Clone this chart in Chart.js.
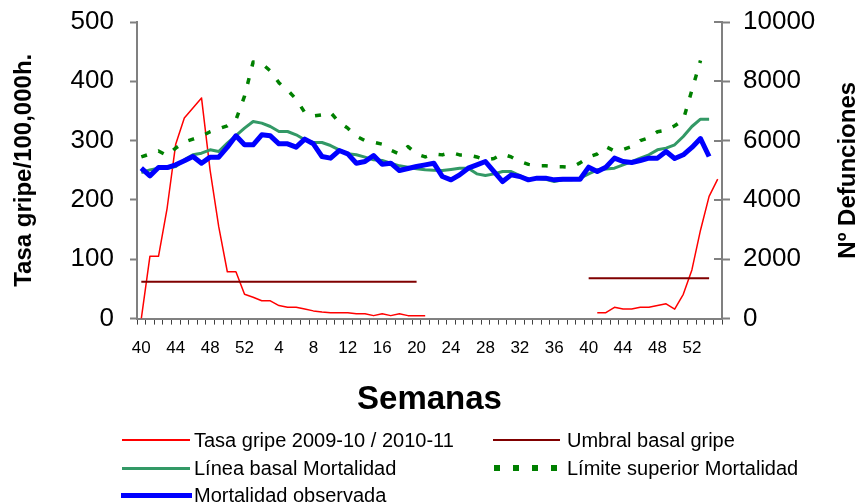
<!DOCTYPE html>
<html><head><meta charset="utf-8">
<script src="https://cdn.jsdelivr.net/npm/chart.js@4/dist/chart.umd.min.js"></script>
<style>
html,body{margin:0;padding:0;background:#fff;}
#wrap{position:relative;width:860px;height:504px;overflow:hidden;}
#c{position:absolute;left:0;top:0;}
.lg{position:absolute;font:20px 'Liberation Sans',Arial,sans-serif;color:#000;line-height:22px;white-space:nowrap;transform:translateY(-50%);}
.sw{position:absolute;}
</style></head><body>
<div id="wrap"><canvas id="c" width="860" height="504"></canvas><div id="legend"></div></div>
<script>
const weeks = [40,41,42,43,44,45,46,47,48,49,50,51,52,
  1,2,3,4,5,6,7,8,9,10,11,12,13,14,15,16,17,18,19,20,21,22,23,24,25,26,27,28,29,30,31,32,33,34,35,36,37,38,39,
  40,41,42,43,44,45,46,47,48,49,50,51,52,1,2,3];

const tasaGripe = [0,105,105,186,294,338,355,372,250,155,79,79,41,36,30,30,22,19,19,16,13,11,10,10,10,8,8,5,8,5,8,5,5,5,
  null,null,null,null,null,null,null,null,null,null,null,null,null,null,null,null,null,null,null,
  10,10,19,16,16,19,19,22,25,16,41,82,149,206,235];

const umbralGripe = [62,62,62,62,62,62,62,62,62,62,62,62,62,62,62,62,62,62,62,62,62,62,62,62,62,62,62,62,62,62,62,62,62,
  null,null,null,null,null,null,null,null,null,null,null,null,null,null,null,null,null,null,null,
  68,68,68,68,68,68,68,68,68,68,68,68,68,68,68,null];

const lineaBasal = [4920,5015,5072,5072,5127,5353,5522,5578,5690,5634,
  5916,6170,6420,6645,6591,6477,6308,6308,6196,6028,
  5937,5937,5835,5690,5555,5522,5443,5353,5330,5240,
  5150,5100,5050,5015,5000,4992,5030,5072,5072,4880,
  4823,4880,4958,4958,4823,4678,4735,4700,4620,4678,
  4678,4735,4880,5015,5040,5072,5180,5296,5410,5522,
  5690,5747,5860,6140,6477,6725,6725];

const limiteSuperior = [5450,5550,5650,5500,5750,5950,6050,6150,6300,6400,
  6500,6700,7500,8650,8600,8350,7950,7700,7400,6950,
  6830,6870,6950,6620,6420,6150,6000,5950,5880,5680,
  5550,5800,5550,5450,5550,5520,5600,5520,5520,5450,
  5350,5400,5550,5450,5300,5200,5150,5150,5120,5120,
  5100,5250,5450,5550,5800,5650,5700,5800,6000,6100,
  6300,6350,6500,6700,7700,8700];

const mortalidadObservada = [5072,4813,5093,5093,5184,5319,5465,5240,5443,5443,
  5780,6163,5859,5859,6196,6163,5893,5893,5780,6050,
  5893,5465,5410,5667,5555,5240,5296,5500,5206,5240,
  4992,5060,5127,5184,5240,4790,4678,4846,5072,5184,
  5296,4958,4620,4846,4790,4678,4735,4735,4678,4700,
  4700,4700,5106,4958,5106,5410,5296,5262,5330,5410,
  5410,5634,5400,5522,5770,6070,5465];

const leftTicks = [0,100,200,300,400,500];
const rightTicks = [0,2000,4000,6000,8000,10000];

const FONT = "'Liberation Sans', Arial, Helvetica, sans-serif";
Chart.defaults.font.family = FONT;
Chart.defaults.color = '#000';

const rightTitle = {
  id: 'rightTitle',
  afterDraw(chart) {
    const ctx = chart.ctx;
    const s = chart.scales.y2;
    ctx.save();
    ctx.strokeStyle = '#808080';
    ctx.lineWidth = 2;
    s.ticks.forEach((t, i) => {
      const y = Math.round(s.getPixelForTick(i));
      ctx.beginPath();
      ctx.moveTo(s.left - 8, y);
      ctx.lineTo(s.left, y);
      ctx.stroke();
    });
    ctx.fillStyle = '#000';
    ctx.font = 'bold 24px ' + FONT;
    ctx.textAlign = 'center';
    ctx.textBaseline = 'middle';
    ctx.translate(848, (chart.chartArea.top + chart.chartArea.bottom) / 2);
    ctx.rotate(-Math.PI / 2);
    ctx.fillText('Nº Defunciones', 0, 0);
    ctx.restore();
  }
};

const datasets = [
  {label: 'Tasa gripe 2009-10 / 2010-11', data: tasaGripe, yAxisID: 'y', borderColor: '#ff0000', borderWidth: 1.5, order: 5, spanGaps: false},
  {label: 'Umbral basal gripe', data: umbralGripe, yAxisID: 'y', borderColor: '#800000', borderWidth: 2, order: 4, spanGaps: false},
  {label: 'Línea basal Mortalidad', data: lineaBasal, yAxisID: 'y2', borderColor: '#339966', borderWidth: 3, order: 3},
  {label: 'Límite superior Mortalidad', data: limiteSuperior, yAxisID: 'y2', borderColor: '#008000', borderWidth: 3.5, borderDash: [6, 12], order: 2},
  {label: 'Mortalidad observada', data: mortalidadObservada, yAxisID: 'y2', borderColor: '#0000ff', borderWidth: 5, order: 1}
];
datasets.forEach(d => { d.pointRadius = 0; d.pointHoverRadius = 0; d.tension = 0; d.fill = false; d.borderJoinStyle = 'round'; });

function noVPad(s, w) { s.width = w; s.paddingTop = 0; s.paddingBottom = 0; }

new Chart(document.getElementById('c'), {
  type: 'line',
  data: {labels: weeks, datasets: datasets},
  options: {
    responsive: false,
    animation: false,
    devicePixelRatio: 1,
    layout: {padding: {top: 22, bottom: 84, left: 0, right: 0}},
    plugins: {legend: {display: false}, tooltip: {enabled: false}},
    scales: {
      x: {
        type: 'category',
        offset: true,
        grid: {offset: true, drawOnChartArea: false, drawTicks: true, tickLength: 6, tickColor: '#404040', tickWidth: 1},
        border: {display: true, color: '#808080', width: 2},
        ticks: {autoSkip: false, maxRotation: 0, minRotation: 0, padding: 14, font: {size: 17}, color: '#000',
          callback: (v, i) => (i % 4 === 0 ? String(weeks[i]) : '')},
        title: {display: true, text: 'Semanas', font: {size: 33, weight: 'bold'}, color: '#000', padding: {top: 0, bottom: 0}},
        afterFit: s => { s.height = 101.4; s.paddingLeft = 0; s.paddingRight = 0; }
      },
      y: {
        position: 'left',
        min: 0, max: 500,
        afterBuildTicks: s => { s.ticks = leftTicks.map(v => ({value: v})); },
        grid: {drawOnChartArea: false, drawTicks: true, tickLength: 7, tickColor: '#808080', tickWidth: 2},
        border: {display: true, color: '#808080', width: 2},
        ticks: {padding: 16, font: {size: 26}, color: '#000', callback: v => String(v)},
        title: {display: true, text: 'Tasa gripe/100,000h.', font: {size: 24, weight: 'bold'}, color: '#000', padding: {top: 10, bottom: 0}},
        afterFit: s => noVPad(s, 137)
      },
      y2: {
        position: 'right',
        min: 0, max: 10000,
        afterBuildTicks: s => { s.ticks = rightTicks.map(v => ({value: v})); },
        grid: {drawOnChartArea: false, drawTicks: true, tickLength: 8, tickColor: '#808080', tickWidth: 2},
        border: {display: true, color: '#808080', width: 2},
        ticks: {padding: 13, font: {size: 26}, color: '#000', callback: v => String(v)},
        title: {display: false},
        afterFit: s => noVPad(s, 138)
      }
    }
  },
  plugins: [rightTitle]
});

// HTML legend built from the datasets
const legendPos = [
  {sx: 122, sw: 68, tx: 194, y: 440},
  {sx: 493, sw: 67, tx: 567, y: 440},
  {sx: 122, sw: 68, tx: 194, y: 468},
  {sx: 494, sw: 64, tx: 567, y: 468},
  {sx: 121, sw: 71, tx: 194, y: 495}
];
const lg = document.getElementById('legend');
datasets.forEach((d, i) => {
  const p = legendPos[i];
  const sw = document.createElement('div');
  sw.className = 'sw';
  const h = Math.max(2, Math.round(d.borderWidth));
  sw.style.left = p.sx + 'px';
  sw.style.width = p.sw + 'px';
  sw.style.height = h + 'px';
  sw.style.top = (p.y - h / 2) + 'px';
  if (d.borderDash) {
    sw.style.height = '6px';
    sw.style.top = (p.y - 3) + 'px';
    sw.style.background = 'repeating-linear-gradient(to right,' + d.borderColor + ' 0 6px, transparent 6px 19px)';
  } else {
    sw.style.background = d.borderColor;
  }
  lg.appendChild(sw);
  const t = document.createElement('div');
  t.className = 'lg';
  t.style.left = p.tx + 'px';
  t.style.top = p.y + 'px';
  t.textContent = d.label;
  lg.appendChild(t);
});
</script>
</body></html>
